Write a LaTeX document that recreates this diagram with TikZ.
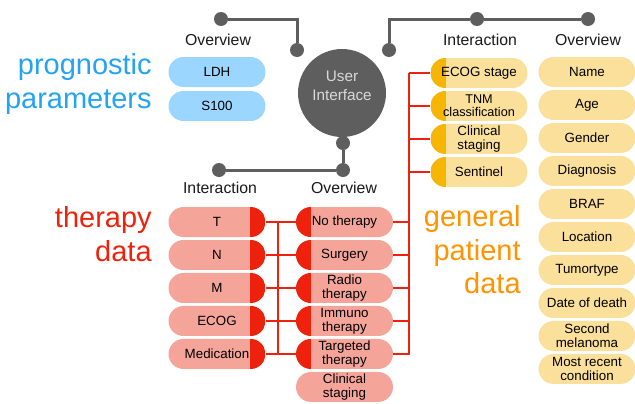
\documentclass[tikz,border=0pt]{standalone}
\usepackage{fontspec}
\setmainfont{Liberation Sans}
\usetikzlibrary{positioning}
\definecolor{uigray}{HTML}{5E5E5E}
\definecolor{pblue}{HTML}{9AD6FF}
\definecolor{tblue}{HTML}{24A3F2}
\definecolor{psalmon}{HTML}{F5A49A}
\definecolor{pred}{HTML}{EE220C}
\definecolor{pyellow}{HTML}{FBE09C}
\definecolor{pgold}{HTML}{F5B500}
\definecolor{torange}{HTML}{FF9300}
\begin{document}
\begin{tikzpicture}[x=0.02cm, y=-0.02cm, node distance = 0.66cm,
    pill/.style = {rectangle, rounded corners=0.3cm, minimum width=1.94cm, minimum height=0.6cm,
        inner sep=0pt, align=center, font=\fontsize{7.6}{8}\selectfont},
    rcap/.style = {path picture={\fill[#1, sharp corners] ([xshift=-0.3cm]path picture bounding box.north east)
        rectangle (path picture bounding box.south east);}},
    lcap/.style = {path picture={\fill[#1, sharp corners] (path picture bounding box.north west)
        rectangle ([xshift=0.3cm]path picture bounding box.south west);}},
    bluepill/.style = {pill, fill=pblue},
    therpill/.style = {pill, fill=psalmon, rcap=pred},
    twocap/.style = {pill, fill=psalmon, rcap=pred, path picture={\fill[pred, sharp corners] (path picture bounding box.north west)
        rectangle ([xshift=0.3cm]path picture bounding box.south west);}},
    genpill/.style = {pill, fill=pyellow, lcap=pgold},
    infopill/.style = {pill, fill=pyellow},
    head/.style = {font=\fontsize{9}{10}\selectfont, text=black!90},
    big/.style = {font=\fontsize{16.5}{19}\selectfont, align=right, anchor=east, inner sep=0pt},
    dot/.style = {circle, fill=uigray, minimum size=0.28cm, inner sep=0pt},
    uiline/.style = {uigray, line width=0.06cm},
    rline/.style = {pred, line width=0.03cm}]
    \useasboundingbox (0,0) rectangle (635,403);

    \node (UI) [circle, fill=uigray, minimum size=1.76cm, inner sep=0pt] at (342,93) {};
    \node (UIText) [align=center, text=black!15, font=\fontsize{8.7}{11}\selectfont] at (342,86) {User\\Interface};

    \node (DotTL) [dot] at (221,19) {};
    \node (DotUL) [dot] at (297,50) {};
    \node (DotUR) [dot] at (389,50) {};
    \node (DotTM) [dot] at (477,19) {};
    \node (DotTR) [dot] at (588,19) {};
    \node (DotUB) [dot] at (343,143) {};
    \node (DotBC) [dot] at (343,170) {};
    \node (DotBL) [dot] at (219,170) {};

    \node (ProgHead) [head] at (218,40) {Overview};
    \node (Prog) [big, text=tblue, font=\fontsize{16.5}{19.5}\selectfont] at (152,84) {prognostic\\parameters};
    \node (LDH) [bluepill] at (217,72) {LDH};
    \node (SHundred) [bluepill, node distance = 0.68cm, below of = LDH] {S100};

    \node (TherHead) [head] at (220,188) {Interaction};
    \node (TherOvHead) [head] at (344,188) {Overview};
    \node (Ther) [big, text=pred] at (152,234) {therapy\\data};
    \node (T) [therpill] at (217,222) {T};
    \node (N) [therpill, below of = T] {N};
    \node (M) [therpill, below of = N] {M};
    \node (ECOG) [therpill, below of = M] {ECOG};
    \node (Medication) [therpill, below of = ECOG] {Medication};
    \node (NoTherapy) [twocap] at (344.5,222) {No therapy};
    \node (Surgery) [twocap, below of = NoTherapy] {Surgery};
    \node (Radio) [twocap, below of = Surgery] {Radio\\therapy};
    \node (Immuno) [twocap, below of = Radio] {Immuno\\therapy};
    \node (Targeted) [twocap, below of = Immuno] {Targeted\\therapy};
    \node (ClinStagingT) [pill, fill=psalmon, below of = Targeted] {Clinical\\staging};

    \node (GenHead) [head] at (480,40) {Interaction};
    \node (GenOvHead) [head] at (588,40) {Overview};
    \node (Gen) [big, text=torange] at (521,250) {general\\patient\\data};
    \node (ECOGStage) [genpill] at (479,73) {ECOG stage};
    \node (TNM) [genpill, below of = ECOGStage, font=\fontsize{7.2}{7.6}\selectfont] {TNM\\classification};
    \node (ClinStaging) [genpill, below of = TNM] {Clinical\\staging};
    \node (Sentinel) [genpill, below of = ClinStaging] {Sentinel};

    \node (Name) [infopill] at (587,72) {Name};
    \node (Age) [infopill, below of = Name] {Age};
    \node (Gender) [infopill, below of = Age] {Gender};
    \node (Diagnosis) [infopill, below of = Gender] {Diagnosis};
    \node (BRAF) [infopill, below of = Diagnosis] {BRAF};
    \node (Location) [infopill, below of = BRAF] {Location};
    \node (Tumortype) [infopill, below of = Location] {Tumortype};
    \node (DateOfDeath) [infopill, below of = Tumortype] {Date of death};
    \node (SecondMelanoma) [infopill, below of = DateOfDeath] {Second\\melanoma};
    \node (MostRecent) [infopill, below of = SecondMelanoma] {Most recent\\condition};

    \draw[uiline] (DotTL) -| (DotUL);
    \draw[uiline] (DotUR) |- (DotTM);
    \draw[uiline] (DotTM) -- (DotTR);
    \draw[uiline] (DotUB) -- (DotBC);
    \draw[uiline] (DotBC) -- (DotBL);

    \draw[rline] (T) -- (NoTherapy);
    \draw[rline] (N) -- (Surgery);
    \draw[rline] (M) -- (Radio);
    \draw[rline] (ECOG) -- (Immuno);
    \draw[rline] (Medication) -- (Targeted);
    \draw[rline] ([xshift=0.24cm]T.east) -- ([xshift=0.24cm]Medication.east);

    \draw[rline] (NoTherapy.east) -- ++(16,0);
    \draw[rline] (Surgery.east) -- ++(16,0);
    \draw[rline] (Radio.east) -- ++(16,0);
    \draw[rline] (Immuno.east) -- ++(16,0);
    \draw[rline] (ECOGStage.west) -- ++(-21,0);
    \draw[rline] (TNM.west) -- ++(-21,0);
    \draw[rline] (ClinStaging.west) -- ++(-21,0);
    \draw[rline] (Sentinel.west) -- ++(-21,0);
    \draw[rline] ([xshift=-0.42cm]ECOGStage.west) |- (Targeted.east);
\end{tikzpicture}
\end{document}
